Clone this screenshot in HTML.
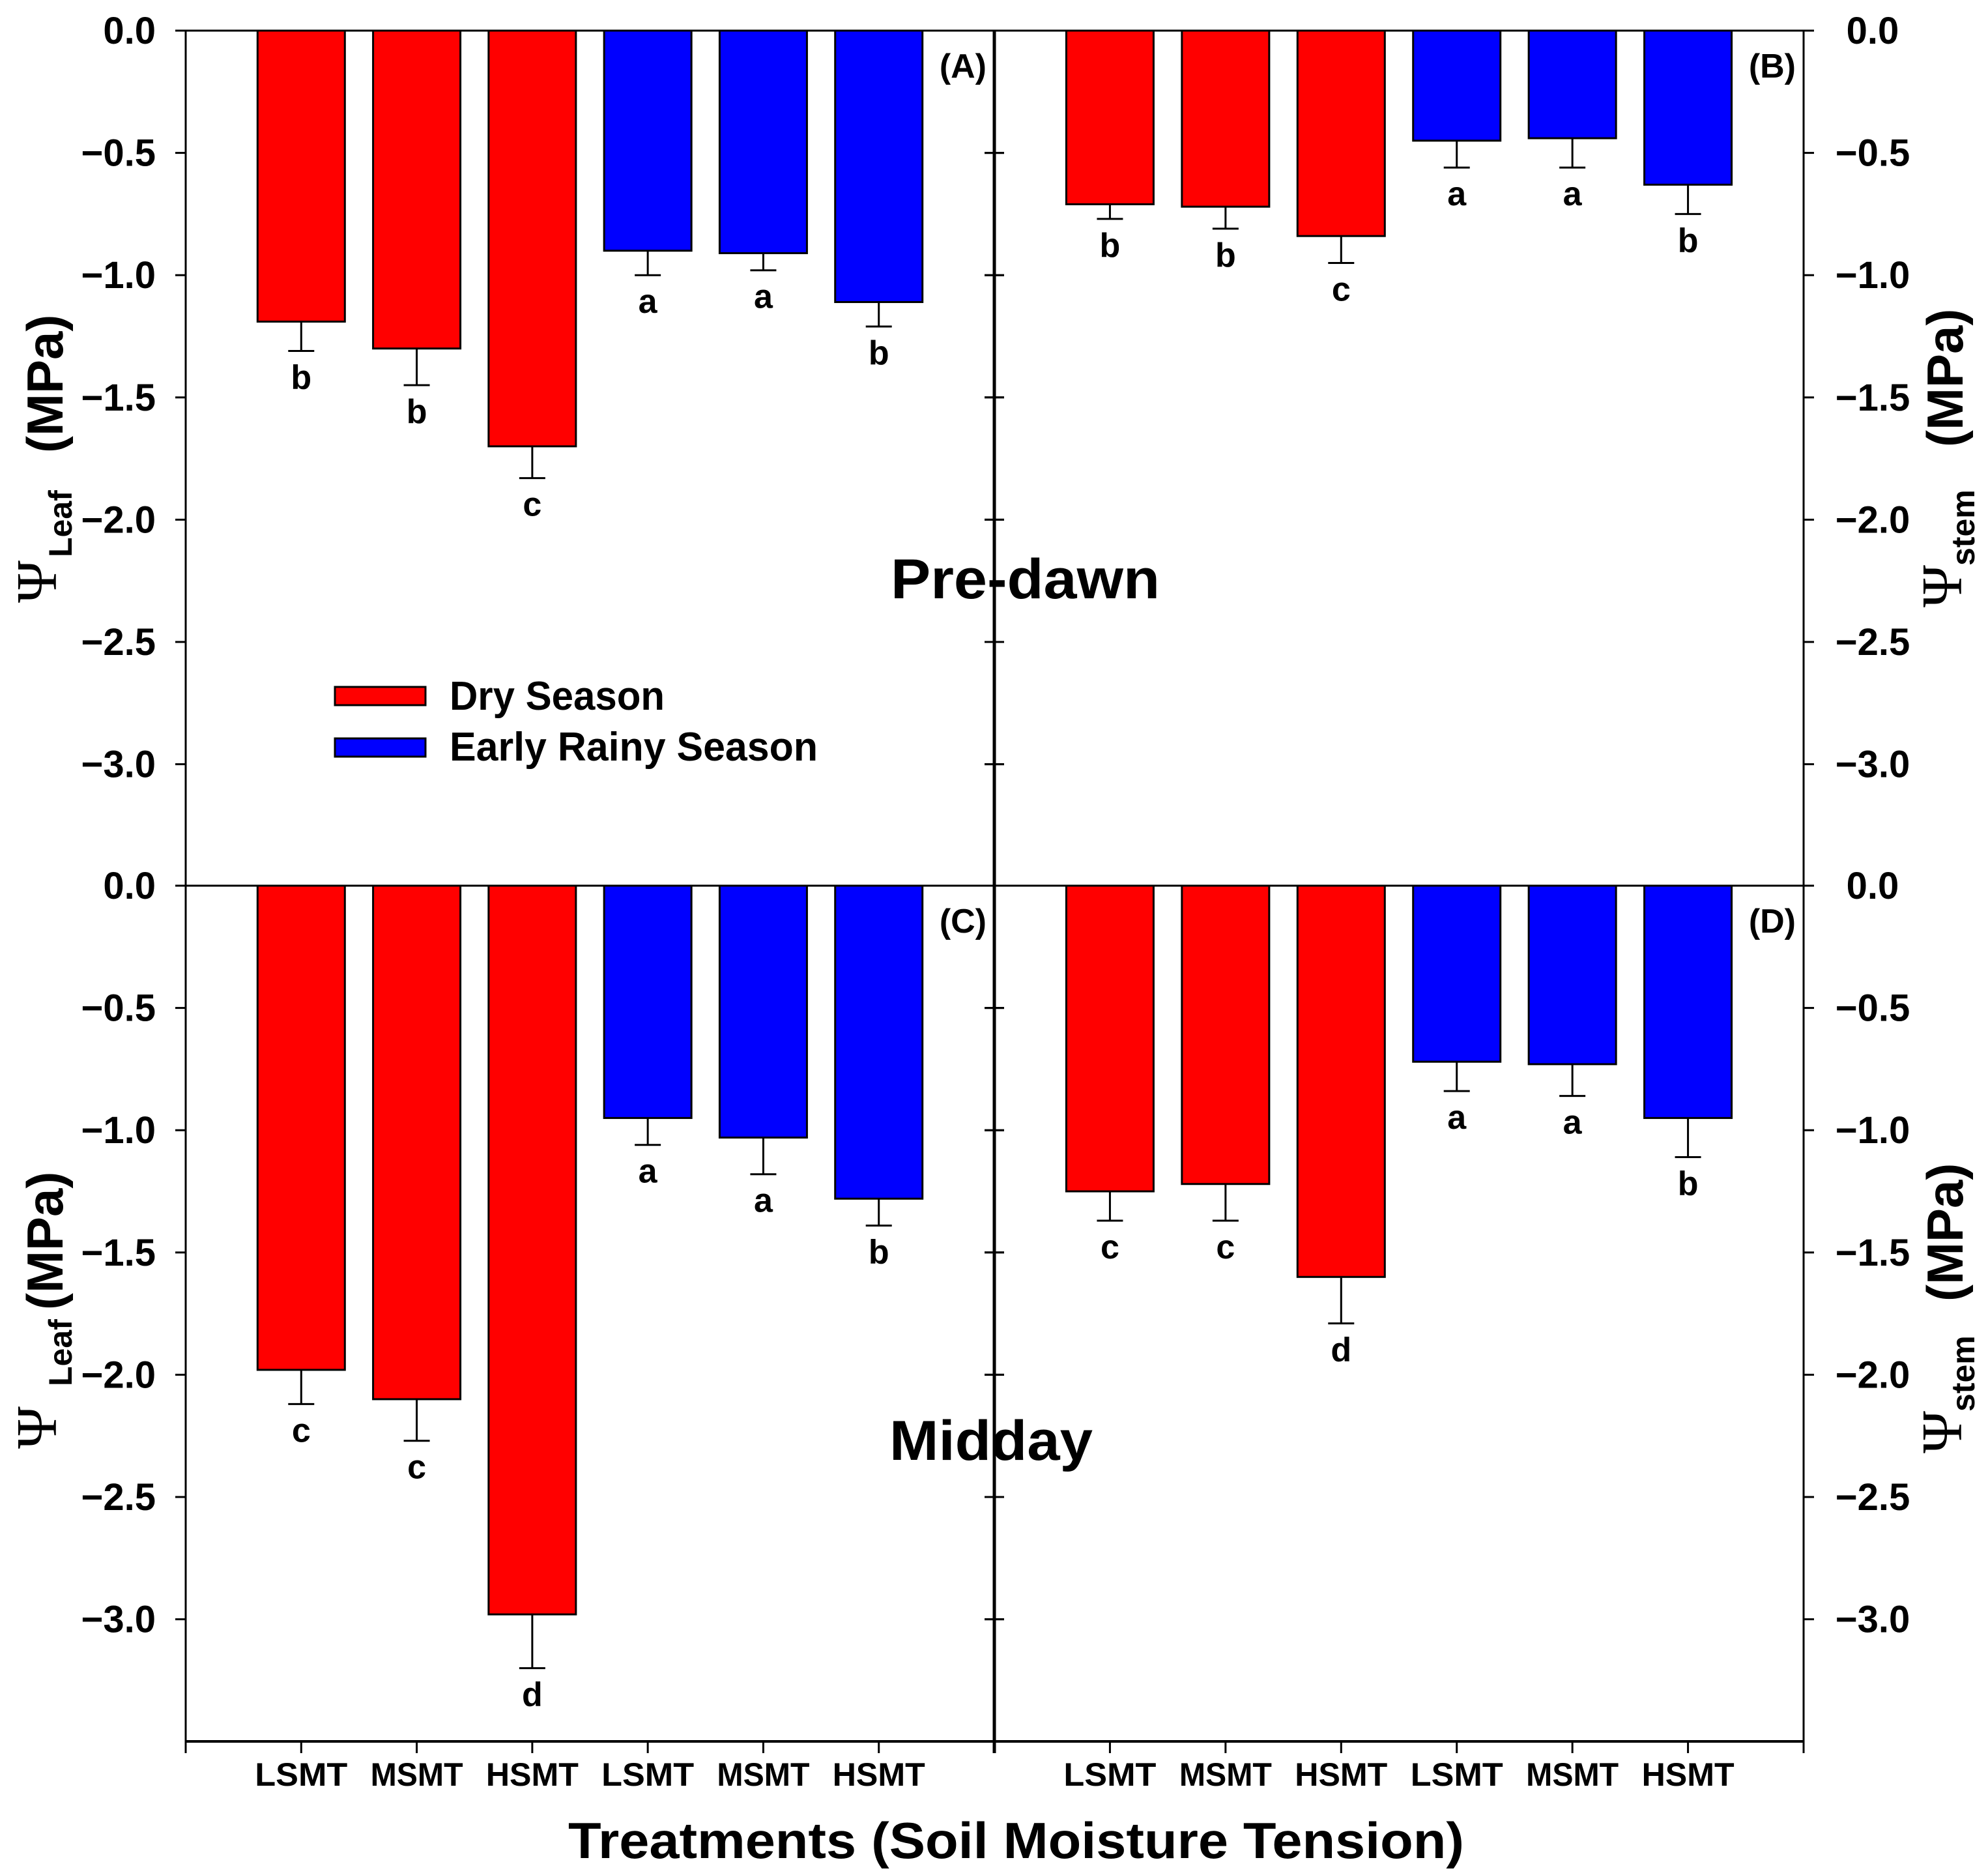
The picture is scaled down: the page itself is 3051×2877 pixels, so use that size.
<!DOCTYPE html>
<html><head><meta charset="utf-8"><style>
html,body{margin:0;padding:0;background:#fff;}
svg{display:block;font-family:"Liberation Sans",sans-serif;font-weight:bold;}
</style></head><body>
<svg id="chart" width="3051" height="2877" viewBox="0 0 3051 2877" xmlns="http://www.w3.org/2000/svg">
<g id="marks"></g>
<g>
<rect x="514" y="1054" width="139" height="28" fill="#ff0000" stroke="#000" stroke-width="3"/>
<rect x="514" y="1133" width="139" height="28" fill="#0000ff" stroke="#000" stroke-width="3"/>
<text x="690" y="1089" font-size="62" textLength="330" lengthAdjust="spacingAndGlyphs">Dry Season</text>
<text x="690" y="1167" font-size="62" textLength="565" lengthAdjust="spacingAndGlyphs">Early Rainy Season</text>
</g>
<text x="1367" y="918" font-size="86" textLength="413" lengthAdjust="spacingAndGlyphs">Pre-dawn</text>
<text x="1365" y="2240" font-size="86" textLength="312" lengthAdjust="spacingAndGlyphs">Midday</text>
<text x="872" y="2851" font-size="78" textLength="1375" lengthAdjust="spacingAndGlyphs">Treatments (Soil Moisture Tension)</text>
<g>
<text transform="translate(86,925) rotate(-90)" font-family="Liberation Serif,serif" font-weight="normal" font-size="88">Ψ</text>
<text transform="translate(110,855) rotate(-90)" font-size="50">Leaf</text>
<text transform="translate(96,695) rotate(-90)" font-size="78">(MPa)</text>
</g>
<g>
<text transform="translate(86,2223) rotate(-90)" font-family="Liberation Serif,serif" font-weight="normal" font-size="88">Ψ</text>
<text transform="translate(110,2127) rotate(-90)" font-size="50">Leaf</text>
<text transform="translate(96,2010) rotate(-90)" font-size="78">(MPa)</text>
</g>
<g>
<text transform="translate(3010,932) rotate(-90)" font-family="Liberation Serif,serif" font-weight="normal" font-size="88">Ψ</text>
<text transform="translate(3030,868) rotate(-90)" font-size="50">stem</text>
<text transform="translate(3012,686) rotate(-90)" font-size="78">(MPa)</text>
</g>
<g>
<text transform="translate(3010,2230) rotate(-90)" font-family="Liberation Serif,serif" font-weight="normal" font-size="88">Ψ</text>
<text transform="translate(3030,2166) rotate(-90)" font-size="50">stem</text>
<text transform="translate(3012,1997) rotate(-90)" font-size="78">(MPa)</text>
</g>
</svg>
<script>
const categories = ["LSMT","MSMT","HSMT","LSMT","MSMT","HSMT"];
const seasons = ["dry","dry","dry","rainy","rainy","rainy"];
const yTicks = [0,-0.5,-1,-1.5,-2,-2.5,-3];
const yTickLabels = ["0.0","\u22120.5","\u22121.0","\u22121.5","\u22122.0","\u22122.5","\u22123.0"];
const valuesA = [-1.19,-1.30,-1.70,-0.90,-0.91,-1.11];
const errorsA = [0.12,0.15,0.13,0.10,0.07,0.10];
const lettersA = ["b","b","c","a","a","b"];
const valuesB = [-0.71,-0.72,-0.84,-0.45,-0.44,-0.63];
const errorsB = [0.06,0.09,0.11,0.11,0.12,0.12];
const lettersB = ["b","b","c","a","a","b"];
const valuesC = [-1.98,-2.10,-2.98,-0.95,-1.03,-1.28];
const errorsC = [0.14,0.17,0.22,0.11,0.15,0.11];
const lettersC = ["c","c","d","a","a","b"];
const valuesD = [-1.25,-1.22,-1.60,-0.72,-0.73,-0.95];
const errorsD = [0.12,0.15,0.19,0.12,0.13,0.16];
const lettersD = ["c","c","d","a","a","b"];

const NS="http://www.w3.org/2000/svg";
const root=document.getElementById('marks');
function mk(tag,attrs,parent){const e=document.createElementNS(NS,tag);for(const k in attrs)e.setAttribute(k,attrs[k]);(parent||root).appendChild(e);return e;}
const PX=375.2;
const panels=[
 {id:"a",x0:285,x1:1526,y0:47,vals:valuesA,errs:errorsA,lets:lettersA,lab:"(A)",side:"left"},
 {id:"b",x0:1526,x1:2768,y0:47,vals:valuesB,errs:errorsB,lets:lettersB,lab:"(B)",side:"right"},
 {id:"c",x0:285,x1:1526,y0:1359,vals:valuesC,errs:errorsC,lets:lettersC,lab:"(C)",side:"left"},
 {id:"d",x0:1526,x1:2768,y0:1359,vals:valuesD,errs:errorsD,lets:lettersD,lab:"(D)",side:"right"}
];
panels.forEach(p=>{
 const g=mk('g',{});
 
 
 const yS=v=>p.y0-v*PX;
 const step=(p.x1-p.x0)/7;
 const xS=i=>p.x0+step*(i+1);
 mk('line',{x1:p.x0,x2:p.x1,y1:p.y0,y2:p.y0,stroke:'#000','stroke-width':3},g);
 p.vals.forEach((v,i)=>{
  const cx=xS(i), bw=134;
  const r=mk('rect',{x:cx-bw/2,y:yS(0),width:bw,height:yS(v)-yS(0),fill:seasons[i]==='dry'?'#ff0000':'#0000ff',stroke:'#000','stroke-width':3},g);
  
  
  const ye=yS(v-p.errs[i]);
  mk('line',{x1:cx,x2:cx,y1:yS(v),y2:ye,stroke:'#000','stroke-width':3},g);
  mk('line',{x1:cx-20,x2:cx+20,y1:ye,y2:ye,stroke:'#000','stroke-width':3},g);
  const t=mk('text',{x:cx,y:ye+58,'font-size':52,'text-anchor':'middle'},g);
  t.textContent=p.lets[i];
  
  
 });
 const pl=mk('text',{x:p.x1-12,y:p.y0+72,'font-size':52,'text-anchor':'end'},g);
 pl.textContent=p.lab;
 
 
 const ax=p.side==='left'?p.x0:p.x1;
 mk('line',{x1:ax,x2:ax,y1:p.y0,y2:p.y0+1313,stroke:'#000','stroke-width':3},g);
 yTicks.forEach((t,k)=>{
  const y=yS(t);
  const dir=p.side==='left'?-1:1;
  mk('line',{x1:ax,x2:ax+dir*16,y1:y,y2:y,stroke:'#000','stroke-width':3},g);
  mk('line',{x1:1511,x2:1541,y1:y,y2:y,stroke:'#000','stroke-width':3},g);
  const tl=mk('text',{x:p.side==='left'?239:2874,y:y+20,'font-size':58,'text-anchor':p.side==='left'?'end':'middle'},g);
  tl.textContent=yTickLabels[k];
  
  
 });
 if(p.y0>1000){
  mk('line',{x1:p.x0,x2:p.x1,y1:2672,y2:2672,stroke:'#000','stroke-width':4},g);
  for(let k=0;k<=7;k++){const x=p.x0+step*k;mk('line',{x1:x,x2:x,y1:2672,y2:2690,stroke:'#000','stroke-width':3},g);}
  categories.forEach((c,i)=>{
   const tx=mk('text',{x:xS(i),y:2740,'font-size':50,'text-anchor':'middle',textLength:142,lengthAdjust:'spacingAndGlyphs'},g);
   tx.textContent=c;
   
   
  });
 }
});
mk('line',{x1:1526,x2:1526,y1:47,y2:2690,stroke:'#000','stroke-width':5});
</script>
</body></html>
